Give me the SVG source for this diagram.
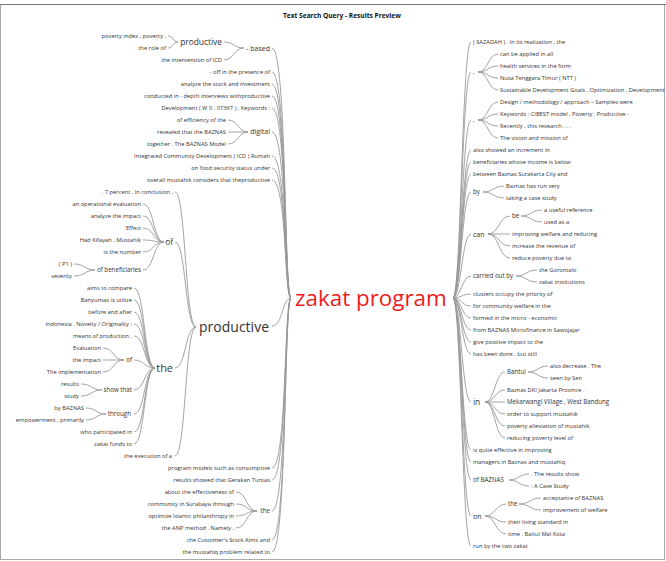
<svg xmlns="http://www.w3.org/2000/svg" width="666" height="561" viewBox="0 0 666 561">
  <style>
    text { font-family: "Open Sans", "Noto Sans", "DejaVu Sans", sans-serif; fill: #333; }
    .e { text-anchor: end; }
    .lf { font-size: 5.75px; }
    .n6 { font-size: 6.2px; }
    .n7 { font-size: 7px; }
    .n8 { font-size: 8.4px; }
    .title { font-size: 6.6px; font-weight: bold; fill: #111; }
    .root { font-size: 22.4px; fill: #ee1c1c; }
    .big { font-size: 14px; }
    .mid { font-size: 10.9px; }
    #links path { fill: none; stroke: #999; stroke-width: 0.9; }
  </style>

  <rect x="0.5" y="4.5" width="664" height="555" fill="#fff" stroke="#aaa" stroke-width="1"/>
  <line x1="0" y1="4.5" x2="666" y2="4.5" stroke="#777" stroke-width="1"/>
  <text class="title" x="283" y="18">Text Search Query - Results Preview</text>

  <!-- connectors -->
  <g id="links">
    <!-- root to left branches -->
    <path d="M291 298C284 298 287 48 272 48"/>
    <path d="M291 298C284 298 287 72 272 72"/>
    <path d="M291 298C284 298 287 84 272 84"/>
    <path d="M291 298C284 298 287 96 272 96"/>
    <path d="M291 298C284 298 287 108 272 108"/>
    <path d="M291 298C284 298 287 132 272 132"/>
    <path d="M291 298C284 298 287 156 272 156"/>
    <path d="M291 298C284 298 287 168 272 168"/>
    <path d="M291 298C284 298 287 180 272 180"/>
    <path d="M291 298C282 298 283 326 272 326"/>
    <path d="M291 298C284 298 287 468 272 468"/>
    <path d="M291 298C284 298 287 480 272 480"/>
    <path d="M291 298C284 298 287 511 272 511"/>
    <path d="M291 298C284 298 287 540 272 540"/>
    <path d="M291 298C284 298 287 552 272 552"/>
    <!-- - based -->
    <path d="M244 48C234 48 234 42 224 42"/>
    <path d="M244 48C234 48 234 60 224 60"/>
    <path d="M178 42C173 42 173 36 168 36"/>
    <path d="M178 42C173 42 173 48 168 48"/>
    <!-- digital -->
    <path d="M248 132C238 132 238 120 228 120"/>
    <path d="M248 132C238 132 238 132 228 132"/>
    <path d="M248 132C238 132 238 144 228 144"/>
    <!-- productive -->
    <path d="M196 327C185 327 186 192 175 192"/>
    <path d="M196 327C185 327 186 242 175 242"/>
    <path d="M196 327C185 327 186 368 175 368"/>
    <path d="M196 327C185 327 186 456 175 456"/>
    <!-- of -->
    <path d="M164 242C153 242 154 204 143 204"/>
    <path d="M164 242C153 242 154 216 143 216"/>
    <path d="M164 242C153 242 154 228 143 228"/>
    <path d="M164 242C153 242 154 240 143 240"/>
    <path d="M164 242C153 242 154 252 143 252"/>
    <path d="M164 242C153 242 154 270 143 270"/>
    <path d="M95 270C85 270 85 264 74 264"/>
    <path d="M95 270C85 270 85 276 74 276"/>
    <!-- the -->
    <path d="M155 368C144 368 145 288 134 288"/>
    <path d="M155 368C144 368 145 300 134 300"/>
    <path d="M155 368C144 368 145 312 134 312"/>
    <path d="M155 368C144 368 145 324 134 324"/>
    <path d="M155 368C144 368 145 336 134 336"/>
    <path d="M155 368C144 368 145 360 134 360"/>
    <path d="M155 368C144 368 145 390 134 390"/>
    <path d="M155 368C144 368 145 414 134 414"/>
    <path d="M155 368C144 368 145 432 134 432"/>
    <path d="M155 368C144 368 145 444 134 444"/>
    <path d="M124 360C113 360 114 348 103 348"/>
    <path d="M124 360C113 360 114 360 103 360"/>
    <path d="M124 360C113 360 114 372 103 372"/>
    <path d="M102 390C91 390 92 384 81 384"/>
    <path d="M102 390C91 390 92 396 81 396"/>
    <path d="M106 414C96 414 96 408 86 408"/>
    <path d="M106 414C96 414 96 420 86 420"/>
    <!-- the (lower left) -->
    <path d="M257 511C246 511 247 492 236 492"/>
    <path d="M257 511C246 511 247 504 236 504"/>
    <path d="M257 511C246 511 247 516 236 516"/>
    <path d="M257 511C246 511 247 528 236 528"/>

    <!-- root to right branches -->
    <path d="M453 298C461 298 462 42 471 42"/>
    <path d="M453 298C461 298 462 72 471 72"/>
    <path d="M453 298C461 298 462 120 471 120"/>
    <path d="M453 298C461 298 462 150 471 150"/>
    <path d="M453 298C461 298 462 162 471 162"/>
    <path d="M453 298C461 298 462 174 471 174"/>
    <path d="M453 298C461 298 462 192 471 192"/>
    <path d="M453 298C461 298 462 234 471 234"/>
    <path d="M453 298C461 298 462 276 471 276"/>
    <path d="M453 298C461 298 462 294 471 294"/>
    <path d="M453 298C461 298 462 306 471 306"/>
    <path d="M453 298C461 298 462 318 471 318"/>
    <path d="M453 298C461 298 462 330 471 330"/>
    <path d="M453 298C461 298 462 342 471 342"/>
    <path d="M453 298C461 298 462 354 471 354"/>
    <path d="M453 298C461 298 462 402 471 402"/>
    <path d="M453 298C461 298 462 450 471 450"/>
    <path d="M453 298C461 298 462 462 471 462"/>
    <path d="M453 298C461 298 462 480 471 480"/>
    <path d="M453 298C461 298 462 516 471 516"/>
    <path d="M453 298C461 298 462 546 471 546"/>
    <!-- . groups -->
    <path d="M478 72C488 72 488 54 498 54"/>
    <path d="M478 72C488 72 488 66 498 66"/>
    <path d="M478 72C488 72 488 78 498 78"/>
    <path d="M478 72C488 72 488 90 498 90"/>
    <path d="M478 120C488 120 488 102 498 102"/>
    <path d="M478 120C488 120 488 114 498 114"/>
    <path d="M478 120C488 120 488 126 498 126"/>
    <path d="M478 120C488 120 488 138 498 138"/>
    <!-- by -->
    <path d="M483 192C493 192 494 186 504 186"/>
    <path d="M483 192C493 192 494 198 504 198"/>
    <!-- can -->
    <path d="M488 234C499 234 499 216 510 216"/>
    <path d="M488 234C499 234 499 234 510 234"/>
    <path d="M488 234C499 234 499 246 510 246"/>
    <path d="M488 234C499 234 499 258 510 258"/>
    <path d="M521 216C531 216 532 210 542 210"/>
    <path d="M521 216C531 216 532 222 542 222"/>
    <!-- carried out by -->
    <path d="M516 276C526 276 527 270 537 270"/>
    <path d="M516 276C526 276 527 282 537 282"/>
    <!-- in -->
    <path d="M485 402C495 402 495 372 505 372"/>
    <path d="M485 402C495 402 495 390 505 390"/>
    <path d="M485 402C495 402 495 402 505 402"/>
    <path d="M485 402C495 402 495 414 505 414"/>
    <path d="M485 402C495 402 495 426 505 426"/>
    <path d="M485 402C495 402 495 438 505 438"/>
    <path d="M528 372C538 372 538 366 548 366"/>
    <path d="M528 372C538 372 538 378 548 378"/>
    <!-- of BAZNAS -->
    <path d="M509 480C519 480 519 474 529 474"/>
    <path d="M509 480C519 480 519 486 529 486"/>
    <!-- on -->
    <path d="M485 516C495 516 496 504 506 504"/>
    <path d="M485 516C495 516 496 522 506 522"/>
    <path d="M485 516C495 516 496 534 506 534"/>
    <path d="M519 504C530 504 530 498 541 498"/>
    <path d="M519 504C530 504 530 510 541 510"/>
  </g>

  <!-- root -->
  <g id="zakat-program"><text class="root" x="295" y="306">zakat program</text></g>

  <!-- left side -->
  <g id="based">
    <text class="n7 e" x="270" y="50.5">- based</text>
    <g id="based-productive">
      <text class="n8 e" x="222" y="45">productive</text>
      <text class="lf e" x="166" y="38">poverty index , poverty ,</text>
      <text class="lf e" x="166" y="50">the role of</text>
    </g>
    <text class="lf e" x="222" y="62">the intervention of ICD</text>
  </g>
  <g id="l-leaves-top">
    <text class="lf e" x="270" y="74">- off in the presence of</text>
    <text class="lf e" x="270" y="86">analyze the stock and investment</text>
    <text class="lf e" x="270" y="98">conducted in - depth interviews withproductive</text>
    <text class="lf e" x="270" y="110">Development ( W 0 . 07367 ) . Keywords :</text>
  </g>
  <g id="digital">
    <text class="n7 e" x="270" y="134.4">digital</text>
    <text class="lf e" x="226" y="122">of efficiency of the</text>
    <text class="lf e" x="226" y="134">revealed that the BAZNAS</text>
    <text class="lf e" x="226" y="146">together . The BAZNAS Model</text>
  </g>
  <g id="l-leaves-mid">
    <text class="lf e" x="270" y="158">Integrated Community Development ( ICD ) Rumah</text>
    <text class="lf e" x="270" y="170">on food security status under</text>
    <text class="lf e" x="270" y="182">overall mustahik considers that theproductive</text>
  </g>
  <g id="productive">
    <text class="big e" x="269" y="332">productive</text>
    <text class="lf e" x="173" y="194">. 7 percent . In conclusion ,</text>
    <g id="productive-of">
      <text class="n8 e" x="173" y="245">of</text>
      <text class="lf e" x="141" y="206">an operational evaluation</text>
      <text class="lf e" x="141" y="218">analyze the impact</text>
      <text class="lf e" x="141" y="230">Effect</text>
      <text class="lf e" x="141" y="242">Had Kifayah , Mustahik</text>
      <text class="lf e" x="141" y="254">is the number</text>
      <g id="of-beneficiaries">
        <text class="n6 e" x="141" y="272">of beneficiaries</text>
        <text class="lf e" x="72" y="266">( P1 )</text>
        <text class="lf e" x="72" y="278">severity</text>
      </g>
    </g>
    <g id="productive-the">
      <text class="mid e" x="173" y="372">the</text>
      <text class="lf e" x="132" y="290">aims to compare</text>
      <text class="lf e" x="132" y="302">Banyumas is utilize</text>
      <text class="lf e" x="132" y="314">before and after</text>
      <text class="lf e" x="132" y="326">Indonesia . Novelty / Originality :</text>
      <text class="lf e" x="132" y="338">means of production .</text>
      <g id="the-of">
        <text class="n6 e" x="132" y="362">of</text>
        <text class="lf e" x="101" y="350">Evaluation</text>
        <text class="lf e" x="101" y="362">the impact</text>
        <text class="lf e" x="101" y="374">The implementation</text>
      </g>
      <g id="show-that">
        <text class="n6 e" x="132" y="392">show that</text>
        <text class="lf e" x="79" y="386">results</text>
        <text class="lf e" x="79" y="398">study</text>
      </g>
      <g id="through">
        <text class="n6 e" x="131" y="416">through</text>
        <text class="lf e" x="84" y="410">by BAZNAS</text>
        <text class="lf e" x="84" y="422">empowerment , primarily</text>
      </g>
      <text class="lf e" x="132" y="434">who participated in</text>
      <text class="lf e" x="132" y="446">zakat funds to</text>
    </g>
    <text class="lf e" x="172" y="458">the execution of a</text>
  </g>
  <g id="l-leaves-low">
    <text class="lf e" x="270" y="470">program models such as consumptive</text>
    <text class="lf e" x="270" y="482">results showed that Gerakan Tuntas</text>
  </g>
  <g id="l-the">
    <text class="n6 e" x="270" y="513.3">the</text>
    <text class="lf e" x="234" y="494">about the effectiveness of</text>
    <text class="lf e" x="234" y="506">community in Surabaya through</text>
    <text class="lf e" x="234" y="518">optimize Islamic philanthropy in</text>
    <text class="lf e" x="234" y="530">the ANP method . Namely ,</text>
  </g>
  <g id="l-leaves-bottom">
    <text class="lf e" x="270" y="542">the Customer's Stock Alms and</text>
    <text class="lf e" x="270" y="554">the mustahiq problem related to</text>
  </g>

  <!-- right side -->
  <g id="r-sazadah"><text class="lf" x="473" y="44">( SAZADAH ) . In its realization , the</text></g>
  <g id="dot-1">
    <text class="n7" x="473" y="74">.</text>
    <text class="lf" x="500" y="56">can be applied in all</text>
    <text class="lf" x="500" y="68">health services in the form</text>
    <text class="lf" x="500" y="80">Nusa Tenggara Timur ( NTT )</text>
    <text class="lf" x="500" y="92">Sustainable Development Goals , Optimization , Development</text>
  </g>
  <g id="dot-2">
    <text class="n7" x="473" y="122">.</text>
    <text class="lf" x="500" y="104">Design / methodology / approach – Samples were</text>
    <text class="lf" x="500" y="116">Keywords : CIBEST model , Poverty , Productive -</text>
    <text class="lf" x="500" y="128">Recently , this research . . .</text>
    <text class="lf" x="500" y="140">The vision and mission of</text>
  </g>
  <g id="r-leaves-1">
    <text class="lf" x="473" y="152">also showed an increment in</text>
    <text class="lf" x="473" y="164">beneficiaries whose income is below</text>
    <text class="lf" x="473" y="176">between Baznas Surakarta City and</text>
  </g>
  <g id="r-by">
    <text class="n6" x="473" y="194.2">by</text>
    <text class="lf" x="506" y="188">Baznas has run very</text>
    <text class="lf" x="506" y="200">taking a case study</text>
  </g>
  <g id="r-can">
    <text class="n7" x="473" y="236.5">can</text>
    <g id="can-be">
      <text class="n6" x="512" y="218.2">be</text>
      <text class="lf" x="544" y="212">a useful reference</text>
      <text class="lf" x="544" y="224">used as a</text>
    </g>
    <text class="lf" x="512" y="236">improving welfare and reducing</text>
    <text class="lf" x="512" y="248">increase the revenue of</text>
    <text class="lf" x="512" y="260">reduce poverty due to</text>
  </g>
  <g id="r-carried">
    <text class="n6" x="473" y="278.2">carried out by</text>
    <text class="lf" x="539" y="272">the Gorontalo</text>
    <text class="lf" x="539" y="284">zakat institutions</text>
  </g>
  <g id="r-leaves-2">
    <text class="lf" x="473" y="296">clusters occupy the priority of</text>
    <text class="lf" x="473" y="308">for community welfare in the</text>
    <text class="lf" x="473" y="320">formed in the micro - economic</text>
    <text class="lf" x="473" y="332">from BAZNAS Microfinance in Sawojajar</text>
    <text class="lf" x="473" y="344">give positive impact to the</text>
    <text class="lf" x="473" y="356">has been done , but still</text>
  </g>
  <g id="r-in">
    <text class="n8" x="473" y="405">in</text>
    <g id="in-bantul">
      <text class="n6" x="507" y="374.2">Bantul</text>
      <text class="lf" x="550" y="368">also decrease . The</text>
      <text class="lf" x="550" y="380">seen by Sen</text>
    </g>
    <text class="lf" x="507" y="392">Baznas DKI Jakarta Province .</text>
    <text class="n6" x="507" y="404.2">Mekarwangi Village , West Bandung</text>
    <text class="lf" x="507" y="416">order to support mustahik</text>
    <text class="lf" x="507" y="428">poverty alleviation of mustahik</text>
    <text class="lf" x="507" y="440">reducing poverty level of</text>
  </g>
  <g id="r-leaves-3">
    <text class="lf" x="473" y="452">is quite effective in improving</text>
    <text class="lf" x="473" y="464">managers in Baznas and mustahiq</text>
  </g>
  <g id="r-of-baznas">
    <text class="n6" x="473" y="482.2">of BAZNAS</text>
    <text class="lf" x="531" y="476">. The results show</text>
    <text class="lf" x="531" y="488">: A Case Study</text>
  </g>
  <g id="r-on">
    <text class="n7" x="473" y="518.5">on</text>
    <g id="on-the">
      <text class="n6" x="508" y="506.2">the</text>
      <text class="lf" x="543" y="500">acceptance of BAZNAS</text>
      <text class="lf" x="543" y="512">improvement of welfare</text>
    </g>
    <text class="lf" x="508" y="524">their living standard in</text>
    <text class="lf" x="508" y="536">time . Baitul Mal Kota</text>
  </g>
  <g id="r-run"><text class="lf" x="473" y="548">run by the two zakat</text></g>
</svg>
